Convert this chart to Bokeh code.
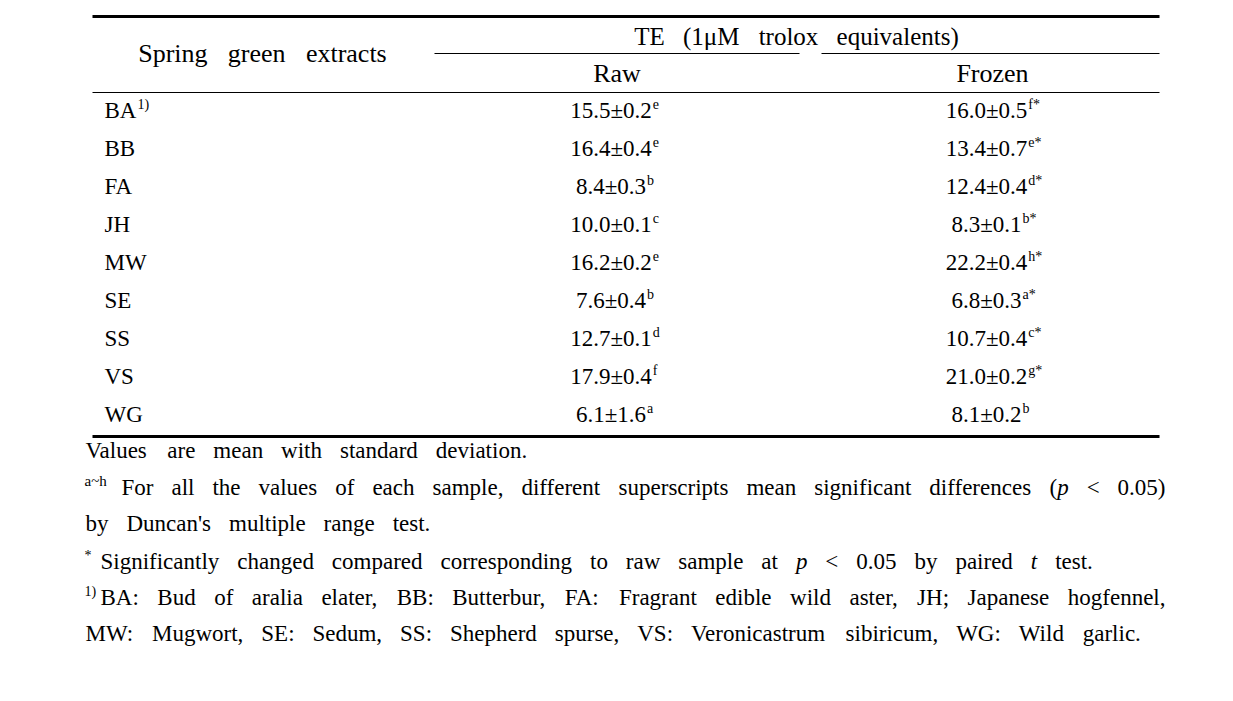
from bokeh.plotting import figure
from bokeh.models import Range1d, ColumnDataSource
from bokeh.core.properties import value
from bokeh.embed import file_html
from bokeh.resources import INLINE

# ---------------- data ----------------
samples = ["BA", "BB", "FA", "JH", "MW", "SE", "SS", "VS", "WG"]
raw_mean = [15.5, 16.4, 8.4, 10.0, 16.2, 7.6, 12.7, 17.9, 6.1]
raw_sd = [0.2, 0.4, 0.3, 0.1, 0.2, 0.4, 0.1, 0.4, 1.6]
raw_letter = ["e", "e", "b", "c", "e", "b", "d", "f", "a"]
frozen_mean = [16.0, 13.4, 12.4, 8.3, 22.2, 6.8, 10.7, 21.0, 8.1]
frozen_sd = [0.5, 0.7, 0.4, 0.1, 0.4, 0.3, 0.4, 0.2, 0.2]
frozen_letter = ["f", "e", "d", "b", "h", "a", "c", "g", "b"]
frozen_sig = [True, True, True, True, True, True, True, True, False]

header_first = "Spring green extracts"
header_group = "TE (1μM trolox equivalents)"
header_cols = ["Raw", "Frozen"]
first_note_mark = "1)"
footnotes = [
    ("", "Values are mean with standard deviation."),
    ("a~h", "For all the values of each sample, different superscripts mean significant differences (_p_ < 0.05)"),
    ("", "by Duncan's multiple range test."),
    ("*", "Significantly changed compared corresponding to raw sample at _p_ < 0.05 by paired _t_ test."),
    ("1)", "BA: Bud of aralia elater, BB: Butterbur, FA: Fragrant edible wild aster, JH; Japanese hogfennel,"),
    ("", "MW: Mugwort, SE: Sedum, SS: Shepherd spurse, VS: Veronicastrum sibiricum, WG: Wild garlic."),
]
justified = [False, True, False, False, True, False]

# ---------------- text metrics (Times / Liberation Serif) ----------------
W = dict(A=722, B=667, C=667, D=722, E=611, F=556, G=722, H=722, I=333, J=389, K=722, L=611,
         M=889, N=722, O=722, P=556, Q=722, R=667, S=556, T=611, U=722, V=722, W=944, X=722,
         Y=722, Z=611, a=444, b=500, c=444, d=500, e=444, f=333, g=500, h=500, i=278, j=278,
         k=500, l=278, m=778, n=500, o=500, p=500, q=500, r=333, s=389, t=278, u=500, v=500,
         w=722, x=500, y=500, z=444)
W.update({str(d): 500 for d in range(10)})
W.update({" ": 250, ".": 250, ",": 250, ":": 278, ";": 278, "'": 180, "(": 333, ")": 333,
          "<": 564, "±": 549, "~": 541, "*": 500, "μ": 576})


def tw(s, size):
    return sum(W.get(c, 500) for c in s) * size / 1000.0


FONT = "Liberation Serif"
BASE_FIX = 0.32  # svg text sits this many ems below the requested baseline
store = {False: dict(x=[], y=[], text=[], size=[]), True: dict(x=[], y=[], text=[], size=[])}


def put(text, x, y, size, italic=False, align="left"):
    w = tw(text, size)
    if align == "center":
        x -= w / 2
    elif align == "right":
        x -= w
    d = store[italic]
    d["x"].append(x)
    d["y"].append(y - BASE_FIX * size)
    d["text"].append(text)
    d["size"].append(f"{size}px")
    return x + w


def parse(line):
    words = []
    for w in line.split(" "):
        parts = w.split("_")
        words.append([(t, i % 2 == 1) for i, t in enumerate(parts) if t])
    return words


def draw_line(line, x0, y, size, gap, x1=None, align="left"):
    words = parse(line)
    ws = [sum(tw(t, size) for t, _ in wd) for wd in words]
    if x1 is not None and len(words) > 1:
        gap = (x1 - x0 - sum(ws)) / (len(words) - 1)
    total = sum(ws) + gap * (len(words) - 1)
    x = x0 - total / 2 if align == "center" else x0
    for wd, wdw in zip(words, ws):
        xx = x
        for t, it in wd:
            xx = put(t, xx, y, size, it)
        x += wdw + gap


# ---------------- layout ----------------
L, R = 93, 1160
RAW_L, RAW_R = 435, 800
FRZ_L, FRZ_R = 822, 1160
ROW0, ROWH = 118, 38
HS, BS, VS, SUP, FS = 26, 23, 23, 14, 23
OFF = 7  # page offset of the canvas

p = figure(width=1217, height=685, x_range=Range1d(8 - OFF, 1225 - OFF),
           y_range=Range1d(693 - OFF, 8 - OFF),
           x_axis_type=None, y_axis_type=None, toolbar_location=None,
           output_backend="svg", min_border=0, outline_line_color=None,
           background_fill_color="white", border_fill_color="white")
p.grid.visible = False

# rules
n = len(samples)
bottom = ROW0 + ROWH * (n - 1) + 15
rules_thick = dict(x0=[L, L], y0=[17, bottom], x1=[R, R], y1=[17, bottom])
rules_thin = dict(x0=[RAW_L, FRZ_L, L], y0=[54, 54, 93], x1=[RAW_R, FRZ_R, R], y1=[54, 54, 93])
p.segment(x0="x0", y0="y0", x1="x1", y1="y1", source=ColumnDataSource(rules_thick),
          line_color="black", line_width=3)
p.segment(x0="x0", y0="y0", x1="x1", y1="y1", source=ColumnDataSource(rules_thin),
          line_color="black", line_width=1.2)

# header
draw_line(header_first, 263, 62, HS, 0.78 * HS, align="center")
draw_line(header_group, 797, 45, HS - 1, 0.7 * HS, align="center")
raw_c = (RAW_L + RAW_R) / 2
frz_c = (FRZ_L + FRZ_R) / 2
put(header_cols[0], raw_c, 82, HS, align="center")
put(header_cols[1], frz_c + 2, 82, HS, align="center")

# body
for i, s in enumerate(samples):
    yb = ROW0 + ROWH * i
    xe = put(s, 105, yb, BS)
    if i == 0:
        put(first_note_mark, xe + 1, yb - 9, SUP)
    t = f"{raw_mean[i]:.1f}±{raw_sd[i]:.1f}"
    xe = put(t, raw_c - 6, yb, VS, align="center")
    put(raw_letter[i], xe + 1, yb - 9, SUP)
    t = f"{frozen_mean[i]:.1f}±{frozen_sd[i]:.1f}"
    xe = put(t, frz_c - 4, yb, VS, align="center")
    put(frozen_letter[i] + ("*" if frozen_sig[i] else ""), xe + 1, yb - 9, SUP)

# footnotes
fn_base = [458, 495, 531, 569, 605, 641]
starts = {"a~h": 122, "*": 101, "1)": 101}
for (mark, line), just, yb in zip(footnotes, justified, fn_base):
    x0 = 86
    if mark:
        put(mark, 85, yb - 9, 15 if mark == "a~h" else SUP)
        x0 = starts[mark]
    draw_line(line, x0, yb, FS, 0.78 * FS, x1=1166 if just else None)

for italic, d in store.items():
    if not d["x"]:
        continue
    p.text(x="x", y="y", text="text", source=ColumnDataSource(d),
           text_font=value(FONT), text_font_size="size",
           text_font_style="italic" if italic else "normal",
           text_baseline="alphabetic", text_align="left", text_color="black")

open("out.html", "w").write(file_html(p, INLINE))
